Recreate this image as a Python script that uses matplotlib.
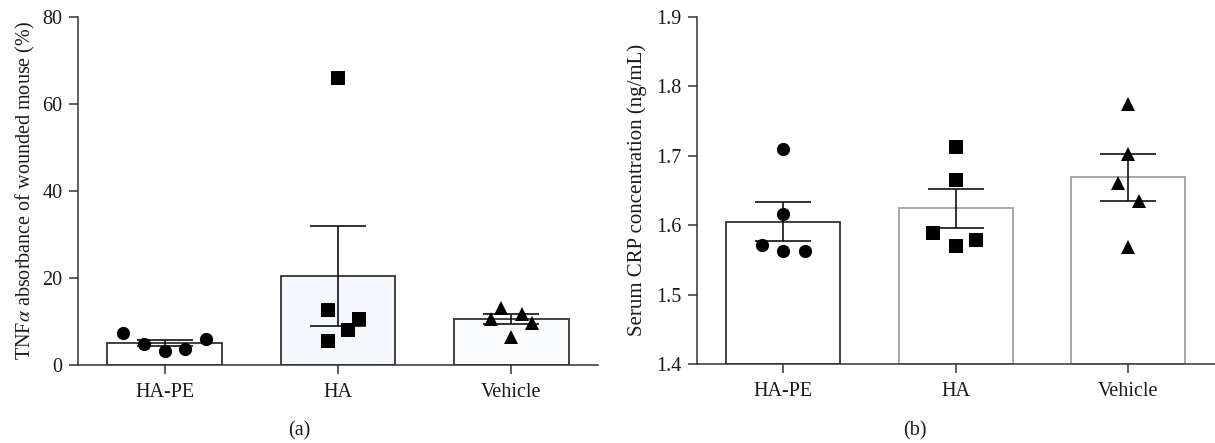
import numpy as np
import matplotlib
matplotlib.use('Agg')
import matplotlib.pyplot as plt

plt.rcParams['font.family'] = ['Liberation Serif', 'DejaVu Serif']
plt.rcParams['mathtext.fontset'] = 'stix'

# ── data ────────────────────────────────────────────────────────────────────
groups = ['HA-PE', 'HA', 'Vehicle']

# (a) TNFα absorbance (%)
tnf_mean = [5.0, 20.5, 10.5]
tnf_sem = [0.7, 11.5, 1.1]
tnf_pts = [
    [7.3, 4.8, 3.3, 3.6, 5.9],
    [66.0, 12.6, 10.5, 8.0, 5.4],
    [13.0, 10.6, 11.8, 9.7, 6.5],
]
tnf_jit = [
    [-0.24, -0.12, 0.0, 0.12, 0.24],
    [0.0, -0.06, 0.12, 0.06, -0.06],
    [-0.06, -0.12, 0.06, 0.12, 0.0],
]

# (b) serum CRP (ng/mL)
crp_mean = [1.605, 1.624, 1.669]
crp_sem = [0.028, 0.028, 0.034]
crp_pts = [
    [1.710, 1.616, 1.571, 1.563, 1.563],
    [1.713, 1.665, 1.589, 1.570, 1.579],
    [1.774, 1.702, 1.661, 1.634, 1.568],
]
crp_jit = [
    [0.0, 0.0, -0.12, 0.0, 0.13],
    [0.0, 0.0, -0.13, 0.0, 0.12],
    [0.0, 0.0, -0.06, 0.06, 0.0],
]

markers = ['o', 's', '^']
msizes = [9.5, 10, 10.5]
axc = '#333333'
txt = '#1a1a1a'

fig = plt.figure(figsize=(12.15, 4.43), dpi=100)
axa = fig.add_axes([0.0642, 0.1761, 0.4280, 0.7862])
axb = fig.add_axes([0.5734, 0.1783, 0.4262, 0.7840])


def style(ax):
    for s in ['top', 'right']:
        ax.spines[s].set_visible(False)
    for s in ['left', 'bottom']:
        ax.spines[s].set_color(axc)
        ax.spines[s].set_linewidth(1.1)
    ax.tick_params(axis='both', direction='out', color=axc, width=1.1,
                   length=6.2, labelsize=14.5, labelcolor=txt)
    ax.tick_params(axis='y', pad=5)
    ax.tick_params(axis='x', pad=7)
    ax.set_xlim(-0.5, 2.5)
    ax.set_xticks(range(len(groups)))
    ax.set_xticklabels(groups)


def panel(ax, means, sems, pts, jit, faces, edges, ylo):
    x = np.arange(len(groups))
    ax.bar(x, np.array(means) - ylo, bottom=ylo, width=0.66, color=faces,
           edgecolor=edges, linewidth=1.3, zorder=2)
    ax.errorbar(x, means, yerr=sems, fmt='none', ecolor='#111111',
                elinewidth=1.2, capsize=20, capthick=1.2, zorder=3)
    for i in range(len(groups)):
        ax.plot(x[i] + np.array(jit[i]), pts[i], linestyle='none',
                marker=markers[i], ms=msizes[i], color='black',
                markeredgewidth=0, zorder=4, clip_on=False)


# ── (a) ─────────────────────────────────────────────────────────────────────
style(axa)
panel(axa, tnf_mean, tnf_sem, tnf_pts, tnf_jit,
      ['#ffffff', '#f4f8fc', '#fafcfd'], [axc, axc, axc], 0)
axa.set_ylim(0, 80)
axa.set_yticks([0, 20, 40, 60, 80])
axa.set_ylabel('TNF$\\alpha$ absorbance of wounded mouse (%)', fontsize=14.5,
               color=txt, labelpad=4)

# ── (b) ─────────────────────────────────────────────────────────────────────
style(axb)
panel(axb, crp_mean, crp_sem, crp_pts, crp_jit,
      ['#ffffff', '#ffffff', '#ffffff'], [axc, '#a0a0a0', '#a0a0a0'], 1.4)
axb.set_ylim(1.4, 1.9)
axb.set_yticks([1.4, 1.5, 1.6, 1.7, 1.8, 1.9])
axb.set_yticklabels(['1.4', '1.5', '1.6', '1.7', '1.8', '1.9'])
axb.set_ylabel('Serum CRP concentration (ng/mL)', fontsize=15,
               color=txt, labelpad=6)

fig.text(0.246, 0.006, '(a)', fontsize=14.5, ha='center', va='bottom', color=txt)
fig.text(0.753, 0.006, '(b)', fontsize=14.5, ha='center', va='bottom', color=txt)

fig.savefig('out.png', dpi=100, facecolor='white')
